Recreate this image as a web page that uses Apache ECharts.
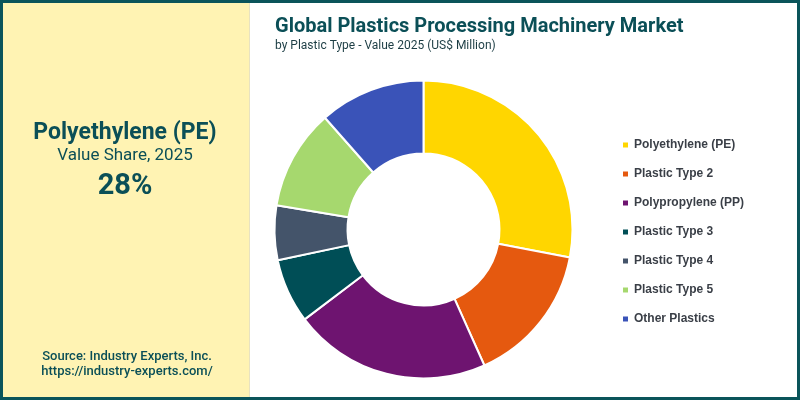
<!DOCTYPE html>
<html>
<head>
<meta charset="utf-8">
<script src="https://cdn.jsdelivr.net/npm/echarts@6/dist/echarts.min.js"></script>
<style>
html,body{margin:0;padding:0;background:#fff;}
#chart{width:800px;height:400px;}
</style>
</head>
<body>
<div id="chart"></div>
<script>
const categories = ["Polyethylene (PE)", "Plastic Type 2", "Polypropylene (PP)", "Plastic Type 3", "Plastic Type 4", "Plastic Type 5", "Other Plastics"];
const values = [28, 15.3, 21.4, 7.0, 5.9, 10.9, 11.5];
const colors = ["#FFD600", "#E5590F", "#6E1470", "#004E56", "#44546A", "#A6D86E", "#3A53B8"];
const highlightName = "Polyethylene (PE)";
const highlightShare = "28%";
const highlightLabel = "Value Share, 2025";
const titleText = "Global Plastics Processing Machinery Market";
const subtitleText = "by Plastic Type - Value 2025 (US$ Million)";
const sourceLines = ["Source: Industry Experts, Inc.", "https://industry-experts.com/"];

const chart = echarts.init(document.getElementById('chart'), null, {renderer: 'canvas'});
const dark = "#0B4F57";
const font = "Roboto, 'Noto Sans', sans-serif";

const option = {
  backgroundColor: "#ffffff",
  animation: false,
  color: colors,
  title: [
    {text: titleText, subtext: subtitleText, left: 270, top: 12, itemGap: 3,
     textStyle: {fontFamily: font, fontSize: 20, fontWeight: 'bold', color: dark},
     subtextStyle: {fontFamily: font, fontSize: 12, color: "#1c3d44"}}
  ],
  legend: {
    orient: 'vertical', left: 616, top: 134, itemWidth: 7, itemHeight: 7, itemGap: 17,
    icon: 'rect',
    textStyle: {fontFamily: "'Liberation Sans', 'Open Sans', sans-serif", fontSize: 12, fontWeight: 'bold', color: "#3a3f47"},
    data: categories
  },
  graphic: [
    {type: 'rect', shape: {x: 0, y: 0, width: 250, height: 400}, style: {fill: "#FFF3B3"}, z: -10},
    {type: 'rect', shape: {x: 1.5, y: 1.5, width: 797, height: 397}, style: {fill: null, stroke: "#0A545A", lineWidth: 3}, z: 10},
    {type: 'line', shape: {x1: 249.5, y1: 0, x2: 249.5, y2: 400}, style: {stroke: "#e8e2c0", lineWidth: 1}, z: -5},
    {type: 'text', x: 125, y: 133, style: {text: highlightName, textAlign: 'center', textVerticalAlign: 'middle', font: "bold 23px " + font, fill: dark}},
    {type: 'text', x: 125, y: 156, style: {text: highlightLabel, textAlign: 'center', textVerticalAlign: 'middle', font: "17px " + font, fill: dark}},
    {type: 'text', x: 125, y: 187, style: {text: highlightShare, textAlign: 'center', textVerticalAlign: 'middle', font: "bold 29px " + font, fill: dark}},
    {type: 'text', x: 127, y: 357, style: {text: sourceLines[0], textAlign: 'center', textVerticalAlign: 'middle', font: "500 13px " + font, fill: dark}},
    {type: 'text', x: 127, y: 372, style: {text: sourceLines[1], textAlign: 'center', textVerticalAlign: 'middle', font: "500 13px " + font, fill: dark}}
  ],
  series: [{
    type: 'pie',
    center: [423.5, 229.5],
    radius: [76, 149],
    startAngle: 90,
    clockwise: true,
    label: {show: false},
    labelLine: {show: false},
    itemStyle: {borderColor: "#ffffff", borderWidth: 2},
    emphasis: {disabled: true},
    data: categories.map((c, i) => ({name: c, value: values[i]}))
  }]
};
chart.setOption(option);
</script>
</body>
</html>
